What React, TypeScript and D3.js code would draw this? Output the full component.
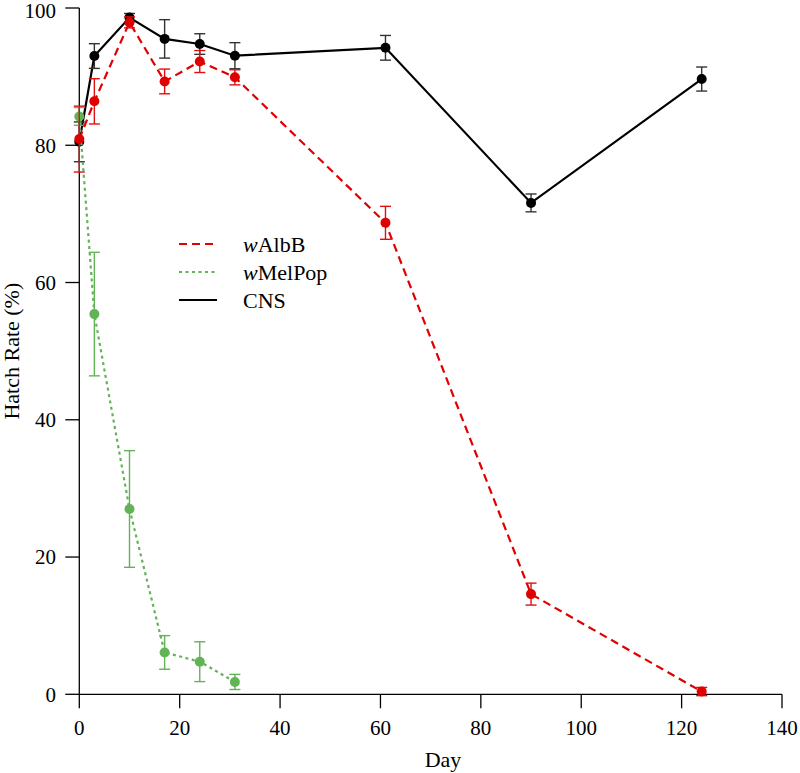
import React from "react";
import * as d3 from "d3";

const xTicks = [0, 20, 40, 60, 80, 100, 120, 140];
const yTicks = [0, 20, 40, 60, 80, 100];

const albDays = [0, 3, 10, 17, 24, 31, 61, 90, 124];
const albVals = [80.9, 86.4, 97.9, 89.3, 92.2, 89.9, 68.7, 14.6, 0.4];
const albErr = [4.8, 3.3, 0.8, 1.8, 1.6, 1.1, 2.4, 1.6, 0.6];

const melDays = [0, 3, 10, 17, 24, 31];
const melVals = [84.2, 55.4, 27.0, 6.1, 4.75, 1.8];
const melErr = [1.3, 9.0, 8.5, 2.45, 2.9, 1.1];

const cnsDays = [0, 3, 10, 17, 24, 31, 61, 90, 124];
const cnsVals = [80.5, 93.0, 98.6, 95.5, 94.75, 93.05, 94.2, 71.6, 89.65];
const cnsErr = [2.9, 1.8, 0.6, 2.8, 1.5, 1.9, 1.8, 1.3, 1.75];

const series = [
  { name: "CNS", italic: "", days: cnsDays, vals: cnsVals, err: cnsErr, color: "#000000", errColor: "#333333", dash: "none", width: 2.2 },
  { name: "MelPop", italic: "w", days: melDays, vals: melVals, err: melErr, color: "#62b356", errColor: "#62b356", dash: "3,3.5", width: 2.2 },
  { name: "AlbB", italic: "w", days: albDays, vals: albVals, err: albErr, color: "#e00000", errColor: "#dd1111", dash: "8,5", width: 2.2 },
];

const legendOrder = [2, 1, 0];

export default function App() {
  const x = d3.scaleLinear().domain([0, 140]).range([79.3, 782]);
  const y = d3.scaleLinear().domain([0, 100]).range([694.3, 8]);
  const font = "'Liberation Serif', 'Times New Roman', serif";
  const line = d3.line<[number, number]>().x((d) => x(d[0])).y((d) => y(d[1]));
  const cap = 5.5;

  return (
    <svg width={800} height={773} style={{ position: "absolute", left: 0, top: 0, background: "#fff" }} fontFamily={font}>
      {/* axes */}
      <g stroke="#000" strokeWidth={1.3} fill="none">
        <line x1={x(0)} x2={x(140)} y1={y(0)} y2={y(0)} />
        <line x1={x(0)} x2={x(0)} y1={y(0)} y2={y(100)} />
        {xTicks.map((t) => (
          <line key={"xt" + t} x1={x(t)} x2={x(t)} y1={y(0)} y2={y(0) + 14} />
        ))}
        {yTicks.map((t) => (
          <line key={"yt" + t} x1={x(0) - 14} x2={x(0)} y1={y(t)} y2={y(t)} />
        ))}
      </g>
      {xTicks.map((t) => (
        <text key={"xl" + t} x={x(t)} y={735} textAnchor="middle" fontSize={21} fill="#000">
          {t}
        </text>
      ))}
      {yTicks.map((t) => (
        <text key={"yl" + t} x={56} y={Math.max(y(t), 11)} dy="0.35em" textAnchor="end" fontSize={21} fill="#000">
          {t}
        </text>
      ))}
      <text x={443} y={767} textAnchor="middle" fontSize={22} fill="#000">Day</text>
      <text transform={`translate(19, ${(y(0) + y(100)) / 2}) rotate(-90)`} textAnchor="middle" fontSize={22} fill="#000">
        Hatch Rate (%)
      </text>

      {/* series */}
      {series.map((s) => {
        const pts = s.days.map((d, i) => [d, s.vals[i]] as [number, number]);
        return (
          <g key={s.name}>
            <path d={line(pts) || ""} fill="none" stroke={s.color} strokeWidth={s.width} strokeDasharray={s.dash} />
            <g stroke={s.errColor} strokeWidth={1.4}>
              {s.days.map((d, i) => {
                const cx = x(d);
                const hi = y(s.vals[i] + s.err[i]);
                const lo = y(s.vals[i] - s.err[i]);
                return (
                  <g key={i}>
                    <line x1={cx} x2={cx} y1={hi} y2={lo} />
                    <line x1={cx - cap} x2={cx + cap} y1={hi} y2={hi} />
                    <line x1={cx - cap} x2={cx + cap} y1={lo} y2={lo} />
                  </g>
                );
              })}
            </g>
            {s.days.map((d, i) => (
              <circle key={"c" + i} cx={x(d)} cy={y(s.vals[i])} r={5} fill={s.color} />
            ))}
          </g>
        );
      })}

      {/* legend */}
      {legendOrder.map((si, k) => {
        const s = series[si];
        const ly = 244 + k * 28;
        return (
          <g key={"lg" + s.name}>
            <line x1={179} x2={217} y1={ly} y2={ly} stroke={s.color} strokeWidth={s.width} strokeDasharray={s.dash} />
            <text x={243} y={ly} dy="0.35em" fontSize={22} fill="#000">
              {s.italic ? <tspan fontStyle="italic">{s.italic}</tspan> : null}
              {s.name}
            </text>
          </g>
        );
      })}
    </svg>
  );
}
